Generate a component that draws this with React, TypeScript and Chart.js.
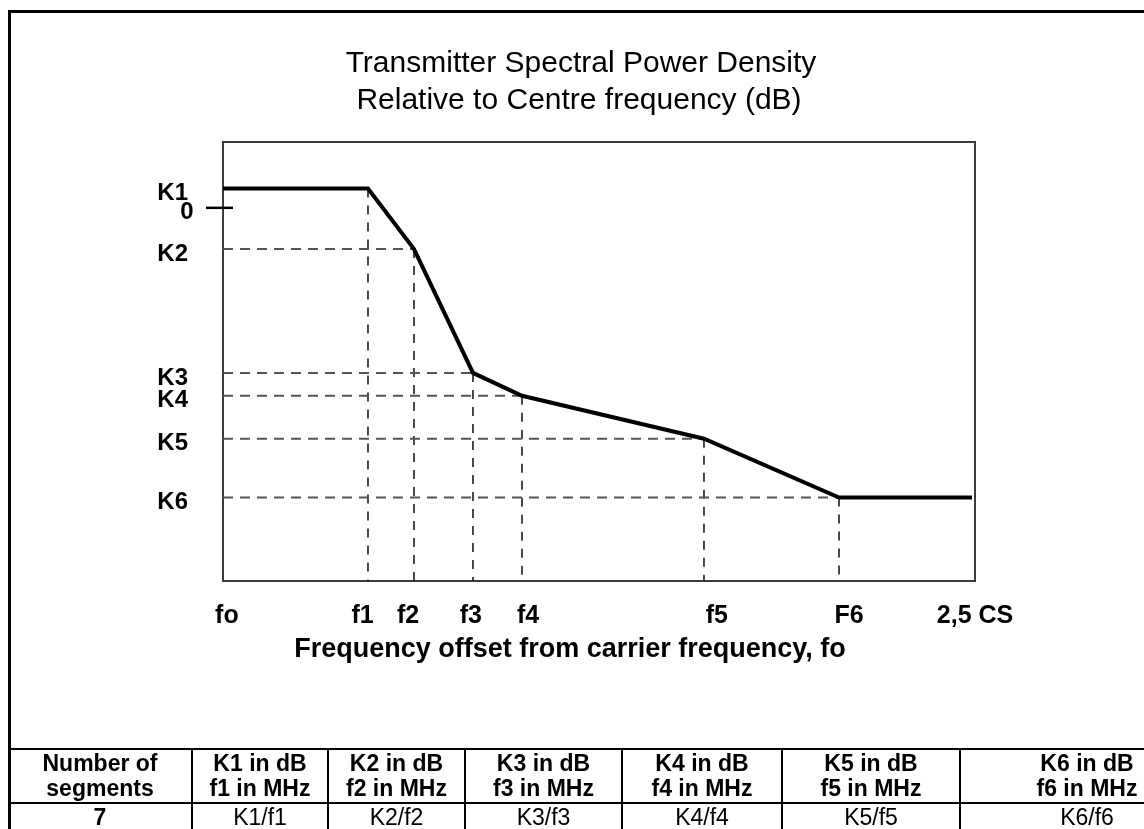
import React, { useEffect, useRef } from "react";
import { Chart, registerables } from "chart.js";

Chart.register(...registerables);

// ---------- data ----------
const titleLines = ["Transmitter Spectral Power Density", "Relative to Centre frequency (dB)"];
const xAxisTitle = "Frequency offset from carrier frequency, fo";

// breakpoint levels (dB relative to centre) and offsets (in units of CS)
const kLabels = ["K1", "K2", "K3", "K4", "K5", "K6"];
const kLevels = [2.2, -4.7, -18.8, -21.4, -26.3, -33.0];
const fLabels = ["f1", "f2", "f3", "f4", "f5", "F6"];
const fOffsets = [0.482, 0.635, 0.831, 0.994, 1.599, 2.048];
const startOffset = 0; // fo
const endOffset = 2.49; // up to 2,5 CS

// x axis tick labels and where they sit on the axis (CS units)
const xTickLabels = ["fo", ...fLabels, "2,5 CS"];
const xTickValues = [0.013, 0.464, 0.615, 0.824, 1.014, 1.642, 2.081, 2.5];

const zeroLabel = "0";
const zeroLevel = 0;

const xMin = 0;
const xMax = 2.5;
const yMin = -42.5;
const yMax = 7.5;

// table
const tableHeader = [
  ["Number of", "segments"],
  ["K1 in dB", "f1 in MHz"],
  ["K2 in dB", "f2 in MHz"],
  ["K3 in dB", "f3 in MHz"],
  ["K4 in dB", "f4 in MHz"],
  ["K5 in dB", "f5 in MHz"],
  ["K6 in dB", "f6 in MHz"],
];
const tableValues = ["7", "K1/f1", "K2/f2", "K3/f3", "K4/f4", "K5/f5", "K6/f6"];

// ---------- layout ----------
const FONT = "'Liberation Sans', Arial, Helvetica, sans-serif";
const W = 1144;
const H = 829;
const AREA = { left: 223, top: 142, right: 975, bottom: 581 };
const colEdges = [8, 192, 328, 465, 622, 782, 960, 1214];
const tableTop = 749;
const tableSep = 803;

const decorPlugin = {
  id: "decor",
  beforeDatasetsDraw(chart: any) {
    const { ctx, chartArea } = chart;
    ctx.save();
    ctx.strokeStyle = "#3c3c3c";
    ctx.lineWidth = 2;
    ctx.strokeRect(chartArea.left, chartArea.top, chartArea.right - chartArea.left, chartArea.bottom - chartArea.top);
    ctx.restore();
  },
  afterDraw(chart: any) {
    const { ctx, chartArea, scales } = chart;
    ctx.save();
    ctx.fillStyle = "#000";
    ctx.textAlign = "center";
    ctx.textBaseline = "middle";
    ctx.font = `30px ${FONT}`;
    ctx.fillText(titleLines[0], 581, 64);
    ctx.fillText(titleLines[1], 579, 101);

    ctx.font = `bold 27px ${FONT}`;
    ctx.fillText(xAxisTitle, 570, 650);

    // zero tick on the y axis
    const y0 = scales.y.getPixelForValue(zeroLevel);
    ctx.strokeStyle = "#000";
    ctx.lineWidth = 2.5;
    ctx.beginPath();
    ctx.moveTo(chartArea.left - 17, y0);
    ctx.lineTo(chartArea.left + 10, y0);
    ctx.stroke();
    ctx.font = `bold 24px ${FONT}`;
    ctx.fillText(zeroLabel, chartArea.left - 36, y0 + 5);
    ctx.restore();
  },
};

export default function App() {
  const ref = useRef<HTMLCanvasElement>(null);

  useEffect(() => {
    const mask = [
      { x: startOffset, y: kLevels[0] },
      ...fOffsets.map((f, i) => ({ x: f, y: kLevels[i] })),
      { x: endOffset, y: kLevels[kLevels.length - 1] },
    ];
    const verticals = fOffsets.map((f, i) => ({
      data: [
        { x: f, y: kLevels[i] },
        { x: f, y: yMin },
      ],
      borderColor: "#1e1e1e",
      borderWidth: 1.6,
      borderDash: [9, 8],
      showLine: true,
      pointRadius: 0,
      order: 3,
    }));
    const horizontals = fOffsets.slice(1).map((f, j) => ({
      data: [
        { x: xMin, y: kLevels[j + 1] },
        { x: f, y: kLevels[j + 1] },
      ],
      borderColor: "#555",
      borderWidth: 2,
      borderDash: [10, 7],
      showLine: true,
      pointRadius: 0,
      order: 2,
    }));

    const chart = new Chart(ref.current as HTMLCanvasElement, {
      type: "scatter",
      data: {
        datasets: [
          {
            data: mask,
            borderColor: "#000",
            borderWidth: 4,
            showLine: true,
            pointRadius: 0,
            tension: 0,
            order: 1,
            clip: false as any,
          },
          ...verticals,
          ...horizontals,
        ] as any,
      },
      options: {
        animation: false,
        responsive: true,
        maintainAspectRatio: false,
        events: [],
        layout: {
          padding: { left: 0, top: AREA.top, right: W - AREA.right, bottom: 0 },
        },
        plugins: {
          legend: { display: false },
          tooltip: { enabled: false },
          title: { display: false },
        },
        scales: {
          x: {
            type: "linear",
            min: xMin,
            max: xMax,
            grid: { display: false, drawTicks: false },
            border: { display: false },
            afterBuildTicks: (scale: any) => {
              scale.ticks = xTickValues.map((v) => ({ value: v }));
            },
            afterFit: (scale: any) => {
              scale.height = H - AREA.bottom;
            },
            ticks: {
              autoSkip: false,
              maxRotation: 0,
              padding: 20,
              color: "#000",
              font: { family: FONT, size: 25, weight: "bold" },
              callback: (_v: any, i: number) => xTickLabels[i],
            },
          },
          y: {
            type: "linear",
            min: yMin,
            max: yMax,
            grid: { display: false, drawTicks: false },
            border: { display: false },
            afterBuildTicks: (scale: any) => {
              scale.ticks = kLevels.map((v) => ({ value: v }));
            },
            afterFit: (scale: any) => {
              scale.width = AREA.left;
            },
            ticks: {
              autoSkip: false,
              padding: 35,
              labelOffset: 5,
              color: "#000",
              font: { family: FONT, size: 24, weight: "bold" },
              callback: (_v: any, i: number) => kLabels[i],
            },
          },
        },
      } as any,
      plugins: [decorPlugin],
    });
    return () => chart.destroy();
  }, []);

  const line = (style: React.CSSProperties) => (
    <div style={{ position: "absolute", background: "#000", ...style }} />
  );

  return (
    <div
      style={{
        position: "fixed",
        left: 0,
        top: 0,
        width: W,
        height: H,
        overflow: "hidden",
        background: "#fff",
        fontFamily: FONT,
      }}
    >
      <div style={{ position: "absolute", left: 0, top: 0, width: W, height: H }}>
        <canvas ref={ref} />
      </div>
      {/* outer frame */}
      <div
        style={{
          position: "absolute",
          left: 8,
          top: 10,
          width: W + 100,
          height: H + 10,
          border: "3px solid #000",
          boxSizing: "border-box",
        }}
      />
      {/* table lines */}
      {line({ left: 8, top: tableTop - 1, width: W, height: 2 })}
      {line({ left: 8, top: tableSep - 1, width: W, height: 2 })}
      {colEdges.slice(1, -1).map((x, i) => (
        <React.Fragment key={"v" + i}>{line({ left: x - 1, top: tableTop - 1, width: 2, height: H - tableTop + 2 })}</React.Fragment>
      ))}
      {/* header cells */}
      {tableHeader.map((lines, i) => (
        <div
          key={"h" + i}
          style={{
            position: "absolute",
            left: colEdges[i],
            width: colEdges[i + 1] - colEdges[i],
            top: tableTop,
            height: tableSep - tableTop,
            display: "flex",
            flexDirection: "column",
            justifyContent: "center",
            alignItems: "center",
            fontWeight: "bold",
            fontSize: 23,
            lineHeight: "25px",
            color: "#000",
          }}
        >
          <div>{lines[0]}</div>
          <div>{lines[1]}</div>
        </div>
      ))}
      {tableValues.map((t, i) => (
        <div
          key={"d" + i}
          style={{
            position: "absolute",
            left: colEdges[i],
            width: colEdges[i + 1] - colEdges[i],
            top: tableSep + 1,
            height: 26,
            display: "flex",
            justifyContent: "center",
            alignItems: "center",
            fontWeight: i === 0 ? "bold" : "normal",
            fontSize: 23,
            lineHeight: "26px",
            color: "#000",
          }}
        >
          {t}
        </div>
      ))}
    </div>
  );
}
